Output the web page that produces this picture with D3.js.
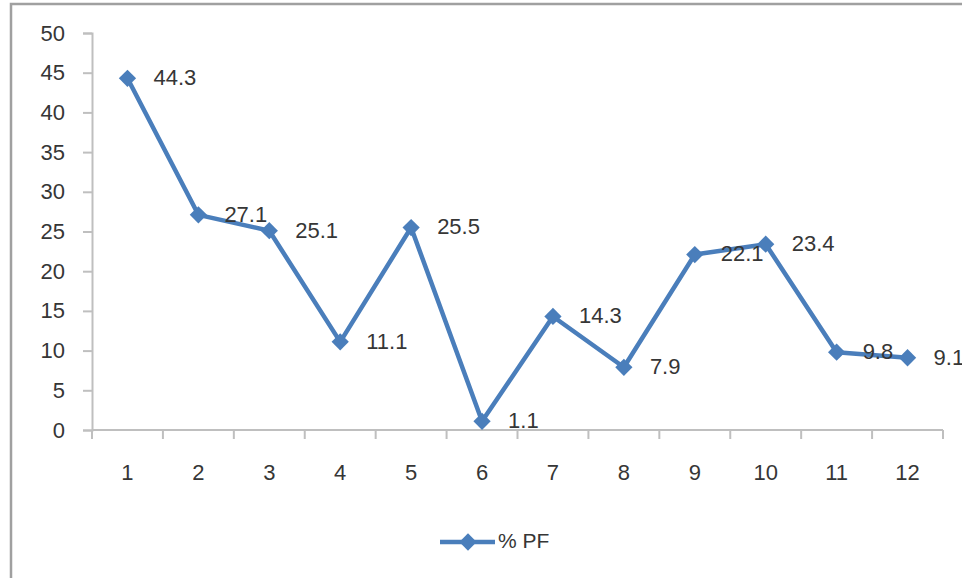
<!DOCTYPE html>
<html>
<head>
<meta charset="utf-8">
<script src="https://cdn.jsdelivr.net/npm/d3@7"></script>
<style>
  body { margin: 0; background: #fff; }
  text { font-family: "Liberation Sans", Arial, sans-serif; fill: #363636; }
</style>
</head>
<body>
<svg id="chart" width="962" height="578"></svg>
<script>
const categories = ['1', '2', '3', '4', '5', '6', '7', '8', '9', '10', '11', '12'];
const pfValues = [44.3, 27.1, 25.1, 11.1, 25.5, 1.1, 14.3, 7.9, 22.1, 23.4, 9.8, 9.1];
const yTicks = [0, 5, 10, 15, 20, 25, 30, 35, 40, 45, 50];
const seriesName = '% PF';

const svg = d3.select('#chart');
const blue = '#4a7ebb';
const axisGrey = '#bfbfbf';
const fontSize = 22;

// outer chart border (runs off the right / bottom of the picture)
svg.append('rect')
  .attr('x', 11).attr('y', 4)
  .attr('width', 1000).attr('height', 700)
  .attr('fill', 'none')
  .attr('stroke', '#a0a0a0')
  .attr('stroke-width', 2.5);

const x = d3.scaleBand().domain(categories).range([92, 943]);
const y = d3.scaleLinear().domain([0, 50]).range([430, 33]);

// y axis
const yAxis = svg.append('g')
  .attr('transform', 'translate(92,0)')
  .call(d3.axisLeft(y).tickValues(yTicks).tickSize(9).tickPadding(18));
yAxis.select('.domain').attr('stroke', axisGrey).attr('stroke-width', 2);
yAxis.selectAll('.tick line').attr('stroke', axisGrey).attr('stroke-width', 2);
yAxis.selectAll('.tick text')
  .attr('font-size', fontSize)
  .attr('font-family', '"Liberation Sans", Arial, sans-serif')
  .attr('fill', '#363636');

// x axis: ticks between categories
const xAxisG = svg.append('g').attr('transform', 'translate(0,430)');
xAxisG.append('line')
  .attr('x1', x.range()[0]).attr('x2', x.range()[1])
  .attr('stroke', axisGrey).attr('stroke-width', 2);
const boundaries = categories.map(c => x(c)).concat([x.range()[1]]);
xAxisG.selectAll('line.tk')
  .data(boundaries)
  .enter()
  .append('line')
  .attr('class', 'tk')
  .attr('x1', d => d).attr('x2', d => d)
  .attr('y1', 0).attr('y2', 9)
  .attr('stroke', axisGrey).attr('stroke-width', 2);
xAxisG.selectAll('text')
  .data(categories)
  .enter()
  .append('text')
  .attr('x', d => x(d) + x.bandwidth() / 2)
  .attr('y', 44)
  .attr('text-anchor', 'middle')
  .attr('dominant-baseline', 'middle')
  .attr('font-size', fontSize)
  .text(d => d);

const cx = (d, i) => x(categories[i]) + x.bandwidth() / 2;

// series line
const line = d3.line()
  .x((d, i) => cx(d, i))
  .y(d => y(d));

svg.append('path')
  .datum(pfValues)
  .attr('d', line)
  .attr('fill', 'none')
  .attr('stroke', blue)
  .attr('stroke-width', 4.5)
  .attr('stroke-linejoin', 'round');

const diamond = d3.symbol().type(d3.symbolDiamond2).size(190);

svg.selectAll('path.marker')
  .data(pfValues)
  .enter()
  .append('path')
  .attr('class', 'marker')
  .attr('d', diamond)
  .attr('transform', (d, i) => `translate(${cx(d, i)},${y(d)})`)
  .attr('fill', blue);

// data labels
svg.selectAll('text.lbl')
  .data(pfValues)
  .enter()
  .append('text')
  .attr('class', 'lbl')
  .attr('x', (d, i) => cx(d, i) + 26)
  .attr('y', d => y(d) + 1)
  .attr('dominant-baseline', 'middle')
  .attr('font-size', fontSize)
  .text(d => d.toFixed(1));

// legend
const legend = svg.append('g').attr('transform', 'translate(440,542)');
legend.append('line')
  .attr('x1', 0).attr('x2', 55)
  .attr('stroke', blue).attr('stroke-width', 4.5);
legend.append('path')
  .attr('d', diamond)
  .attr('transform', 'translate(28,0)')
  .attr('fill', blue);
legend.append('text')
  .attr('x', 58)
  .attr('y', 0)
  .attr('dominant-baseline', 'middle')
  .attr('font-size', fontSize - 1)
  .text(seriesName);
</script>
</body>
</html>
